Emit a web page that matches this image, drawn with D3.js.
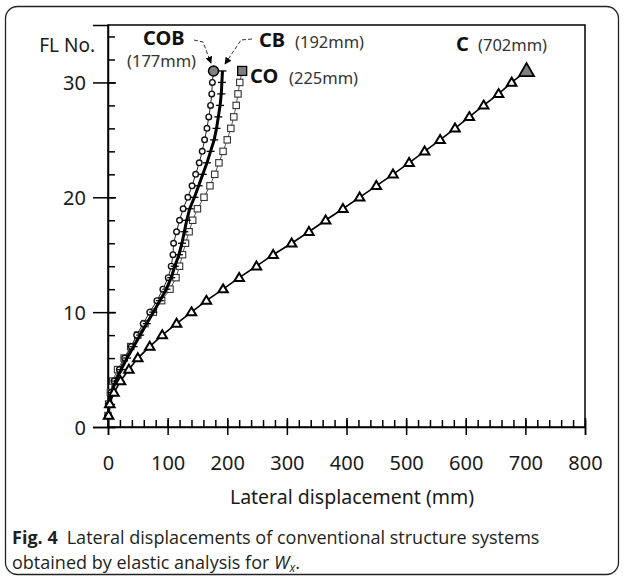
<!DOCTYPE html>
<html lang="en">
<head>
    <meta charset="UTF-8">
    <title>Lateral displacements</title>
    <style>
        body {
            margin: 0;
            background: #fff;
        }
        svg {
            display: block;
            font-family: 'Noto Sans', 'Open Sans', sans-serif;
        }
    </style>
</head>
<body>
    <svg id="chart" width="624" height="578"></svg>

    <script src="https://d3js.org/d3.v7.min.js"></script>
    <script>
        // floor numbers 1..31
        const floors = [1, 2, 3, 4, 5, 6, 7, 8, 9, 10, 11, 12, 13, 14, 15, 16,
                        17, 18, 19, 20, 21, 22, 23, 24, 25, 26, 27, 28, 29, 30, 31];

        // lateral displacement (mm) per floor
        const dispC   = [1, 3, 10, 21, 35, 50, 70, 91, 115, 140, 165, 193, 220, 249, 277, 308,
                         337, 365, 394, 422, 450, 478, 505, 531, 557, 582, 606, 630, 655, 677, 702];
        const dispCO  = [0, 1, 4, 8, 16, 27, 38, 50, 62, 76, 90, 104, 114, 120, 125, 130,
                         136, 142, 150, 161, 171, 179, 186, 193, 200, 206, 211, 215, 218, 221, 225];
        const dispCB  = [0.5, 2, 6, 13, 22, 32, 43, 54, 65, 76, 87, 98, 106, 112, 119, 124,
                         128, 132, 137, 145, 152, 159, 166, 172, 178, 182, 185, 188, 190, 191, 192];
        const dispCOB = [0.5, 2, 5, 10, 19, 28, 39, 48, 59, 70, 82, 92, 101, 106, 109, 110,
                         115, 120, 126, 134, 141, 147, 153, 158, 162, 166, 169, 172, 174, 175, 177];

        const xMajor = [0, 100, 200, 300, 400, 500, 600, 700, 800];
        const yMajor = [0, 10, 20, 30];

        const svg = d3.select("#chart");

        // outer figure border
        svg.append("rect")
            .attr("x", 5.5).attr("y", 6.5)
            .attr("width", 613).attr("height", 568)
            .attr("rx", 12)
            .attr("fill", "none")
            .attr("stroke", "#222")
            .attr("stroke-width", 1.3);

        const plot = { left: 108, right: 585, top: 25, bottom: 427 };

        const x = d3.scaleLinear().domain([0, 800]).range([plot.left, plot.right]);
        const y = d3.scaleLinear().domain([0, 35]).range([plot.bottom, plot.top]);

        // plot frame
        svg.append("rect")
            .attr("x", plot.left).attr("y", plot.top)
            .attr("width", plot.right - plot.left)
            .attr("height", plot.bottom - plot.top)
            .attr("fill", "none")
            .attr("stroke", "#000")
            .attr("stroke-width", 1.5);

        // x axis: minor ticks inward, major ticks crossing
        svg.append("g")
            .attr("transform", `translate(0,${plot.bottom})`)
            .call(d3.axisBottom(x).tickValues(d3.range(0, 801, 20)).tickSize(-7).tickFormat(""))
            .call(g => g.select(".domain").remove())
            .selectAll("line").attr("stroke", "#000").attr("stroke-width", 1.5);

        const xAxis = svg.append("g")
            .attr("transform", `translate(0,${plot.bottom})`)
            .call(d3.axisBottom(x).tickValues(xMajor).tickSize(8))
            .call(g => g.select(".domain").attr("stroke", "#000").attr("stroke-width", 1.5));
        xAxis.selectAll(".tick line").attr("y1", -9).attr("stroke", "#000").attr("stroke-width", 1.5);
        xAxis.selectAll(".tick text")
            .attr("y", 43).attr("dy", 0)
            .attr("fill", "#1a1a1a")
            .style("font-size", "20px")
            .style("font-family", "'Noto Sans', sans-serif");

        // y axis
        svg.append("g")
            .attr("transform", `translate(${plot.left},0)`)
            .call(d3.axisLeft(y).tickValues(d3.range(0, 35, 2)).tickSize(-7).tickFormat(""))
            .call(g => g.select(".domain").remove())
            .selectAll("line").attr("stroke", "#000").attr("stroke-width", 1.5);

        const yAxis = svg.append("g")
            .attr("transform", `translate(${plot.left},0)`)
            .call(d3.axisLeft(y).tickValues(yMajor).tickSize(15))
            .call(g => g.select(".domain").attr("stroke", "#000").attr("stroke-width", 1.5));
        yAxis.selectAll(".tick line").attr("x2", -15).attr("x1", 8).attr("stroke", "#000").attr("stroke-width", 1.5);
        yAxis.selectAll(".tick text")
            .attr("x", -22).attr("dy", "0.36em")
            .attr("fill", "#1a1a1a")
            .style("font-size", "20px")
            .style("font-family", "'Noto Sans', sans-serif");

        svg.append("text")
            .attr("x", 95).attr("y", 52)
            .attr("text-anchor", "end")
            .attr("fill", "#1a1a1a")
            .style("font-size", "19px")
            .text("FL No.");

        svg.append("text")
            .attr("x", 352).attr("y", 504)
            .attr("text-anchor", "middle")
            .attr("fill", "#1a1a1a")
            .style("font-size", "19.5px")
            .text("Lateral displacement (mm)");

        // series
        const line = d3.line().x(d => x(d[0])).y(d => y(d[1]));
        const pts = arr => arr.map((v, i) => [v, floors[i]]);

        const cPts = pts(dispC), coPts = pts(dispCO), cbPts = pts(dispCB), cobPts = pts(dispCOB);

        // CO: squares with thin gray line
        svg.append("path").datum(coPts)
            .attr("d", line).attr("fill", "none")
            .attr("stroke", "#555").attr("stroke-width", 1);
        svg.append("g").selectAll("rect")
            .data(coPts.slice(0, -1))
            .join("rect")
            .attr("x", d => x(d[0]) - 3.2).attr("y", d => y(d[1]) - 3.2)
            .attr("width", 6.4).attr("height", 6.4)
            .attr("fill", "#fff").attr("stroke", "#333").attr("stroke-width", 1.1);

        // COB: circles with thin line
        svg.append("path").datum(cobPts)
            .attr("d", line).attr("fill", "none")
            .attr("stroke", "#222").attr("stroke-width", 1);
        svg.append("g").selectAll("circle")
            .data(cobPts.slice(0, -1))
            .join("circle")
            .attr("cx", d => x(d[0])).attr("cy", d => y(d[1]))
            .attr("r", 2.8)
            .attr("fill", "#fff").attr("stroke", "#111").attr("stroke-width", 1.4);

        // CB: thick line with short dash markers
        svg.append("path").datum(cbPts)
            .attr("d", line).attr("fill", "none")
            .attr("stroke", "#000").attr("stroke-width", 3);
        svg.append("g").selectAll("line")
            .data(cbPts)
            .join("line")
            .attr("x1", d => x(d[0]) - 4).attr("x2", d => x(d[0]) + 4)
            .attr("y1", d => y(d[1])).attr("y2", d => y(d[1]))
            .attr("stroke", "#000").attr("stroke-width", 1.3);

        // C: triangles
        const tri = (cx, cy, w, h) =>
            `M${cx},${cy - h * 0.6}L${cx + w / 2},${cy + h * 0.4}L${cx - w / 2},${cy + h * 0.4}Z`;
        svg.append("path").datum(cPts)
            .attr("d", line).attr("fill", "none")
            .attr("stroke", "#000").attr("stroke-width", 1.6);
        svg.append("g").selectAll("path")
            .data(cPts.slice(0, -1))
            .join("path")
            .attr("d", d => tri(x(d[0]), y(d[1]), 9.5, 8))
            .attr("fill", "#fff").attr("stroke", "#000").attr("stroke-width", 2)
            .attr("stroke-linejoin", "miter");

        // large filled markers at roof level
        const topC = cPts[cPts.length - 1], topCO = coPts[coPts.length - 1], topCOB = cobPts[cobPts.length - 1];
        svg.append("path")
            .attr("d", tri(x(topC[0]), y(topC[1]), 15, 13))
            .attr("fill", "#7f7f7f").attr("stroke", "#000").attr("stroke-width", 1.8);
        svg.append("rect")
            .attr("x", x(topCO[0]) - 4.5).attr("y", y(topCO[1]) - 4.5)
            .attr("width", 9).attr("height", 9)
            .attr("fill", "#7f7f7f").attr("stroke", "#000").attr("stroke-width", 1.3);
        svg.append("circle")
            .attr("cx", x(topCOB[0])).attr("cy", y(topCOB[1]))
            .attr("r", 5)
            .attr("fill", "#7f7f7f").attr("stroke", "#000").attr("stroke-width", 1.5);

        // series labels
        const labels = [
            { name: "COB", nx: 143, ny: 45, val: "(177mm)", vx: 127, vy: 67 },
            { name: "CB", nx: 259, ny: 47, val: "(192mm)", vx: 295, vy: 48 },
            { name: "CO", nx: 250, ny: 83, val: "(225mm)", vx: 289, vy: 84 },
            { name: "C", nx: 456, ny: 51, val: "(702mm)", vx: 478, vy: 51 }
        ];
        labels.forEach(l => {
            svg.append("text")
                .attr("x", l.nx).attr("y", l.ny)
                .attr("fill", "#111")
                .style("font-size", "20px").style("font-weight", "bold")
                .text(l.name);
            svg.append("text")
                .attr("x", l.vx).attr("y", l.vy)
                .attr("fill", "#333")
                .style("font-size", "16.5px")
                .text(l.val);
        });

        // dashed leaders with arrowheads
        svg.append("defs").append("marker")
            .attr("id", "arrow")
            .attr("viewBox", "0 0 10 10")
            .attr("refX", 9).attr("refY", 5)
            .attr("markerWidth", 7).attr("markerHeight", 7)
            .attr("orient", "auto")
            .attr("markerUnits", "userSpaceOnUse")
            .append("path").attr("d", "M0,0L10,5L0,10Z").attr("fill", "#000");

        svg.append("path")
            .attr("d", "M194,40L203,42L211,63")
            .attr("fill", "none").attr("stroke", "#333").attr("stroke-width", 1)
            .attr("stroke-dasharray", "4,2")
            .attr("marker-end", "url(#arrow)");
        svg.append("path")
            .attr("d", "M252,39L241,40L225,64")
            .attr("fill", "none").attr("stroke", "#333").attr("stroke-width", 1)
            .attr("stroke-dasharray", "4,2")
            .attr("marker-end", "url(#arrow)");

        // caption, condensed to the figure width
        const cap1 = svg.append("text")
            .attr("x", 0).attr("y", 0)
            .attr("fill", "#231f20")
            .style("font-size", "18px")
            .style("font-family", "'Open Sans', sans-serif");
        cap1.append("tspan").style("font-weight", "bold").text("Fig. 4");
        cap1.append("tspan").text("\u2002Lateral displacements of conventional structure systems");

        const cap2 = svg.append("text")
            .attr("x", 0).attr("y", 0)
            .attr("fill", "#231f20")
            .style("font-size", "18px")
            .style("font-family", "'Open Sans', sans-serif");
        cap2.append("tspan").text("obtained by elastic analysis for ");
        cap2.append("tspan").style("font-style", "italic").text("W");
        cap2.append("tspan").style("font-style", "italic").style("font-size", "12px").attr("dy", 3).text("x");
        cap2.append("tspan").attr("dy", -3).text(".");

        // both lines share the same horizontal squeeze
        const squeeze = 528 / cap1.node().getBBox().width;
        cap1.attr("transform", `translate(12,544) scale(${squeeze},1)`);
        cap2.attr("transform", `translate(12,569) scale(${squeeze},1)`);
    </script>
</body>
</html>
